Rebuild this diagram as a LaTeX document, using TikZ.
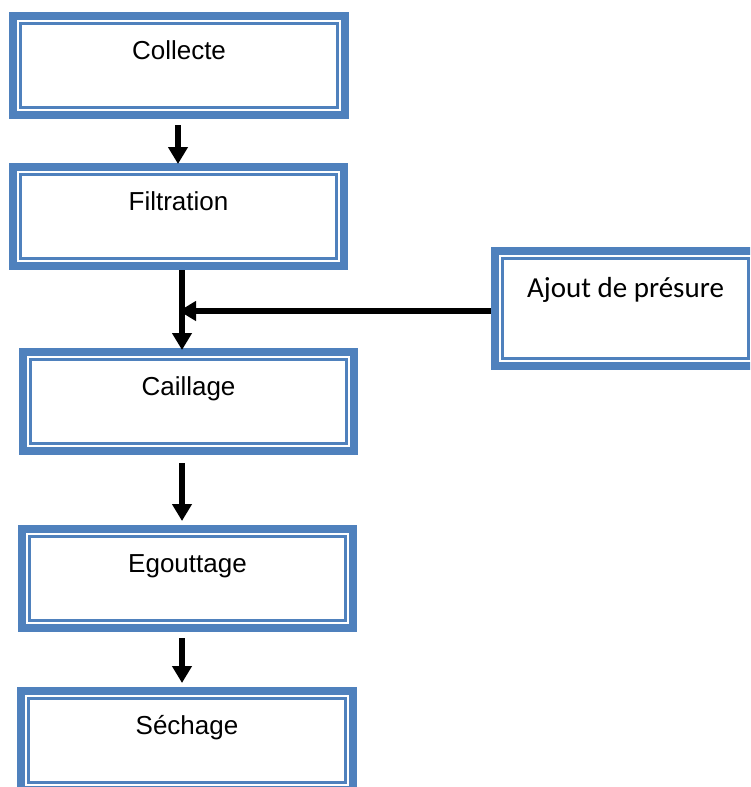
\documentclass[tikz,border=0pt]{standalone}
\usepackage{fontspec}
\setmainfont{Liberation Sans}
\newfontfamily\calibri{Carlito}
\usetikzlibrary{arrows.meta,calc}
\definecolor{wblue}{HTML}{4F81BD}
\tikzset{
  wbox/.style={draw=wblue, line width=8pt, rectangle, inner sep=0pt, fill=white,
    minimum width=#1, minimum height=99pt,
    font=\fontsize{26}{30}\selectfont, text height=19pt, text depth=31pt,
    path picture={\draw[wblue, line width=2.5pt]
      ([xshift=7.5pt,yshift=-7.5pt]path picture bounding box.north west) rectangle
      ([xshift=-7.5pt,yshift=7.5pt]path picture bounding box.south east);}},
  wbox/.default=331pt,
  arr/.style={line width=6pt, -{Triangle[width=19pt,length=17pt]}},
  seg/.style={line width=6pt}
}
\begin{document}
\begin{tikzpicture}[x=1pt,y=-1pt]
\clip (0,0) rectangle (750,787);
\fill[white] (0,0) rectangle (750,787);
\node[wbox=332pt] (collecte) at (179,65.5) {Collecte};
\node[wbox] (filtration) at (178.5,216.5) {Filtration};
\node[wbox] (caillage) at (188.5,401.5) {Caillage};
\node[wbox] (egouttage) at (187.5,578.5) {Egouttage};
\node[wbox=332pt] (sechage) at (187,740.5) {Séchage};
\node[wbox=261pt, minimum height=115pt, font=\calibri\fontsize{29}{34}\selectfont,
      text height=19pt, text depth=41.4pt] (ajout) at (625.5,308.5) {Ajout de présure};
\coordinate (j) at (182,311);
% arrows
\draw[arr] ([xshift=-1pt,yshift=-6pt]collecte.south) -- ([xshift=-0.5pt,yshift=-1pt]filtration.north);
\draw[seg] (j |- filtration.south) -- (j);
\draw[arr] (j) -- ([yshift=-2pt]j |- caillage.north);
\draw[arr] (ajout.west |- j) -- ([xshift=-3pt]j);
\draw[arr] ([yshift=-8pt]j |- caillage.south) -- ([yshift=4pt]j |- egouttage.north);
\draw[arr] ([yshift=-6pt]j |- egouttage.south) -- ([yshift=4pt]j |- sechage.north);
\end{tikzpicture}
\end{document}
